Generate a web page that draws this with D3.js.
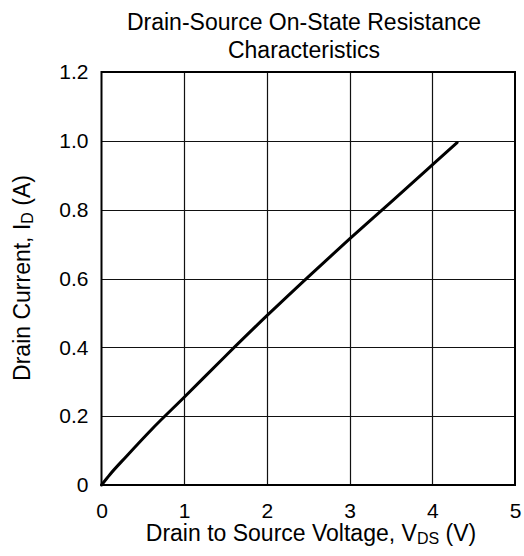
<!DOCTYPE html>
<html>
<head>
<meta charset="utf-8">
<script src="https://cdn.jsdelivr.net/npm/d3@7"></script>
<style>
  body { margin: 0; background: #fff; }
  svg { display: block; font-family: "Liberation Sans", Arial, sans-serif; }
</style>
</head>
<body>
<div id="chart"></div>
<script>
// chart data
const vds = [0, 0.1, 0.3, 0.6, 1.0, 1.5, 2.0, 2.5, 3.0, 3.5, 4.0, 4.3];
const idA = [0, 0.03, 0.083, 0.16, 0.255, 0.375, 0.492, 0.605, 0.715, 0.822, 0.93, 0.995];
const xTicks = [0, 1, 2, 3, 4, 5];
const yTicks = [0, 0.2, 0.4, 0.6, 0.8, 1.0, 1.2];
const yTickLabels = ["0", "0.2", "0.4", "0.6", "0.8", "1.0", "1.2"];

const width = 524;
const height = 556;
const margin = {left: 101.5, right: 9, top: 72, bottom: 71};
const fs = 21;   // tick labels
const ls = 23;   // title and axis titles

const svg = d3.select("#chart")
  .append("svg")
  .attr("width", width)
  .attr("height", height);

const x = d3.scaleLinear()
  .domain([0, 5])
  .range([margin.left, width - margin.right]);

const y = d3.scaleLinear()
  .domain([0, 1.2])
  .range([height - margin.bottom, margin.top]);

// grid
svg.append("g")
  .selectAll("line")
  .data(xTicks.slice(1, -1))
  .enter()
  .append("line")
    .attr("x1", d => Math.round(x(d)) + 0.5)
    .attr("x2", d => Math.round(x(d)) + 0.5)
    .attr("y1", y(0))
    .attr("y2", y(1.2))
    .attr("stroke", "#111")
    .attr("stroke-width", 1.2);

svg.append("g")
  .selectAll("line")
  .data(yTicks.slice(1, -1))
  .enter()
  .append("line")
    .attr("x1", x(0))
    .attr("x2", x(5))
    .attr("y1", d => Math.round(y(d)) + 0.5)
    .attr("y2", d => Math.round(y(d)) + 0.5)
    .attr("stroke", "#111")
    .attr("stroke-width", 1.2);

// frame
svg.append("rect")
  .attr("x", x(0))
  .attr("y", y(1.2))
  .attr("width", x(5) - x(0))
  .attr("height", y(0) - y(1.2))
  .attr("fill", "none")
  .attr("stroke", "#000")
  .attr("stroke-width", 2);

// axes (labels only, the frame draws the lines)
const xAxis = svg.append("g")
  .attr("transform", `translate(0,${y(0)})`)
  .call(d3.axisBottom(x).tickValues(xTicks).tickSize(0).tickPadding(18).tickFormat(d3.format("d")));
xAxis.select(".domain").remove();
xAxis.selectAll("text").attr("font-size", fs).attr("fill", "#000").attr("font-family", "Liberation Sans, Arial, sans-serif");

const yAxis = svg.append("g")
  .attr("transform", `translate(${x(0)},0)`)
  .call(d3.axisLeft(y).tickValues(yTicks).tickSize(0).tickPadding(13).tickFormat((d, i) => yTickLabels[i]));
yAxis.select(".domain").remove();
yAxis.selectAll("text").attr("font-size", fs).attr("fill", "#000").attr("font-family", "Liberation Sans, Arial, sans-serif");

// curve
const line = d3.line()
  .x(d => x(d[0]))
  .y(d => y(d[1]))
  .curve(d3.curveMonotoneX);

svg.append("path")
  .datum(vds.map((v, i) => [v, idA[i]]))
  .attr("d", line)
  .attr("fill", "none")
  .attr("stroke", "#000")
  .attr("stroke-width", 3)
  .attr("stroke-linecap", "round");

// title
const title = svg.append("text")
  .attr("text-anchor", "middle")
  .attr("font-size", ls)
  .attr("fill", "#000");
title.append("tspan").attr("x", 304).attr("y", 30).text("Drain-Source On-State Resistance");
title.append("tspan").attr("x", 304).attr("y", 58).text("Characteristics");

// x label
const xl = svg.append("text")
  .attr("x", 311)
  .attr("y", 541)
  .attr("text-anchor", "middle")
  .attr("font-size", ls)
  .attr("fill", "#000");
xl.append("tspan").text("Drain to Source Voltage, V");
xl.append("tspan").attr("font-size", 16).attr("dy", 3).text("DS");
xl.append("tspan").attr("dy", -3).text(" (V)");

// y label
const yl = svg.append("text")
  .attr("transform", `translate(30,278) rotate(-90)`)
  .attr("text-anchor", "middle")
  .attr("font-size", ls)
  .attr("fill", "#000");
yl.append("tspan").text("Drain Current, I");
yl.append("tspan").attr("font-size", 16).attr("dy", 3).text("D");
yl.append("tspan").attr("dy", -3).text(" (A)");
</script>
</body>
</html>
